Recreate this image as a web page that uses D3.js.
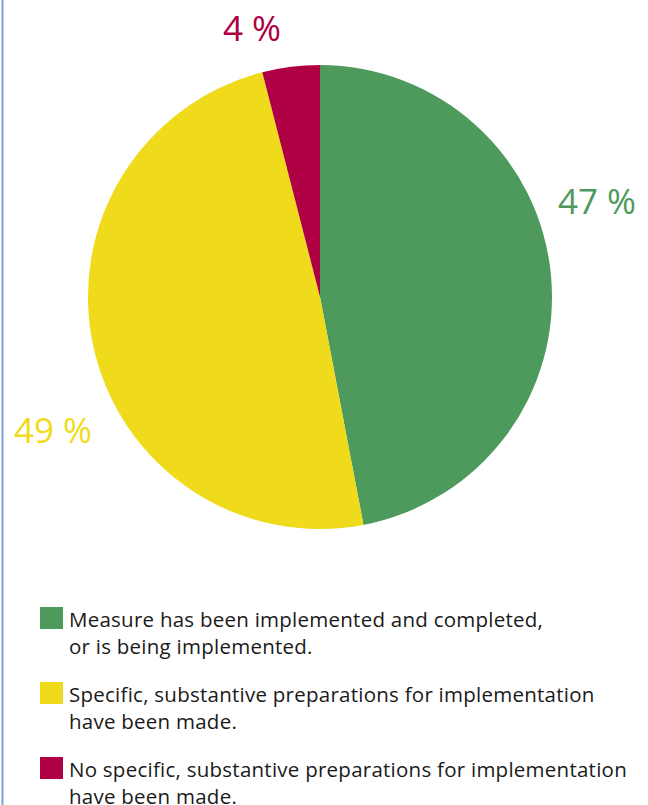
<!DOCTYPE html>
<html>
<head>
<meta charset="utf-8">
<script src="https://cdn.jsdelivr.net/npm/d3@7"></script>
<style>
  html, body { margin: 0; padding: 0; background: #fff; }
  svg { display: block; }
</style>
</head>
<body>
<svg id="chart" width="648" height="805"></svg>
<script>
// Status of measures, share of all measures (%)
const categories = ["implemented", "prepared", "notPrepared"];
const values = [47, 49, 4];
const valueLabels = ["47 %", "49 %", "4 %"];
const colors = ["#4e9a5d", "#efdb1b", "#ae0042"];
const legendLines = [
  ["Measure has been implemented and completed,", "or is being implemented."],
  ["Specific, substantive preparations for implementation", "have been made."],
  ["No specific, substantive preparations for implementation", "have been made."]
];

const svg = d3.select("#chart");
const cx = 320, cy = 297, r = 232;

// left frame rule
svg.append("line")
  .attr("x1", 2.5).attr("x2", 2.5).attr("y1", 0).attr("y2", 805)
  .attr("stroke", "#7b9fcf").attr("stroke-width", 2);

const pie = d3.pie().sort(null).value(d => d);
const arcs = pie(values);
const arc = d3.arc().innerRadius(0).outerRadius(r);

const g = svg.append("g").attr("transform", `translate(${cx},${cy})`);
g.selectAll("path").data(arcs).join("path")
  .attr("d", arc)
  .attr("fill", (d, i) => colors[i]);

// percentage labels placed outside the slices
const labelSpec = [
  { x: r + 6, y: -83, anchor: "start" },
  { x: -r + 4, y: 146, anchor: "end" },
  { x: -68, y: -256, anchor: "middle" }
];
g.selectAll("text.val").data(arcs).join("text")
  .attr("class", "val")
  .attr("x", (d, i) => labelSpec[i].x)
  .attr("y", (d, i) => labelSpec[i].y)
  .attr("text-anchor", (d, i) => labelSpec[i].anchor)
  .attr("font-family", "'Open Sans', sans-serif")
  .attr("font-weight", 400)
  .attr("font-size", 35)
  .attr("fill", (d, i) => colors[i])
  .text((d, i) => valueLabels[i]);

// legend
const legend = svg.append("g");
const legendY = [607, 682, 757];
categories.forEach((c, i) => {
  const item = legend.append("g").attr("transform", `translate(40,${legendY[i]})`);
  item.append("rect").attr("width", 23).attr("height", 22).attr("fill", colors[i]);
  const t = item.append("text")
    .attr("x", 29).attr("y", 20)
    .attr("font-family", "'Open Sans', sans-serif")
    .attr("font-size", 20.5)
    .attr("letter-spacing", 0.25)
    .attr("fill", "#1a1a1a");
  legendLines[i].forEach((line, j) => {
    t.append("tspan").attr("x", 29).attr("dy", j === 0 ? 0 : 27).text(line);
  });
});
</script>
</body>
</html>
